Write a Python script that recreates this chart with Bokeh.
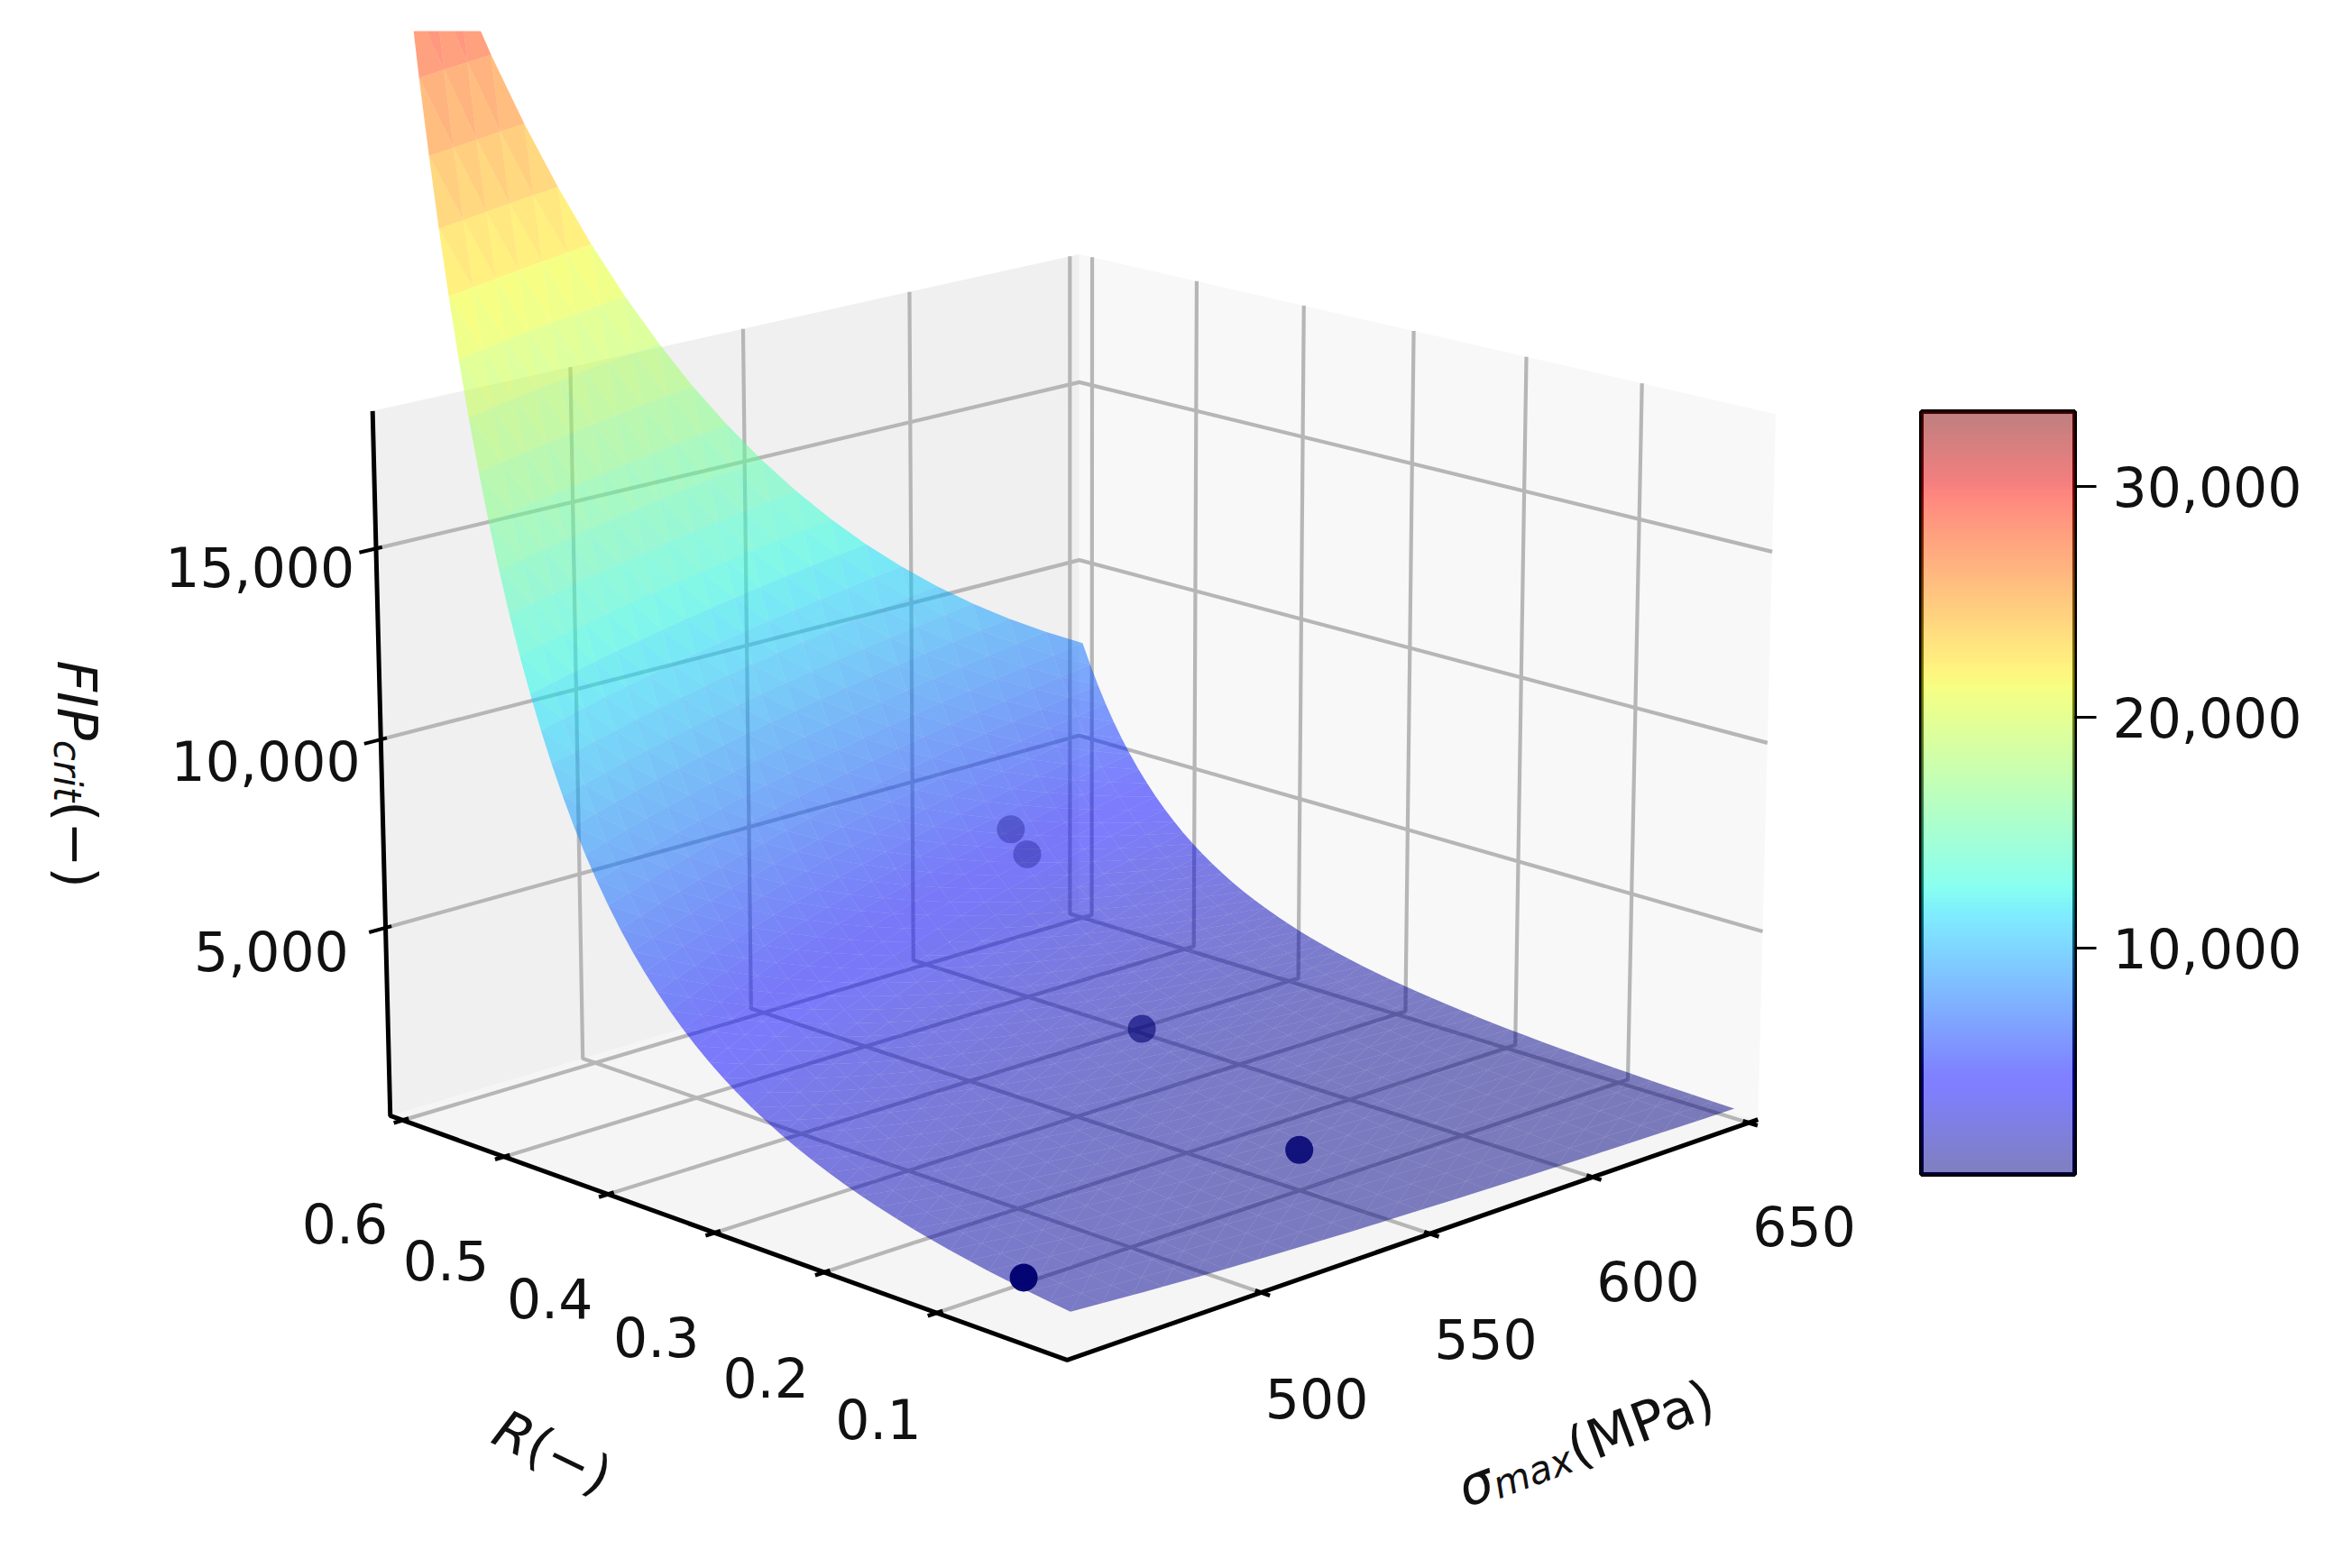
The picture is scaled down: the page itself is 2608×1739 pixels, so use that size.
import math
import numpy as np
from bokeh.plotting import figure
from bokeh.models import Range1d, ColorBar, LinearColorMapper, FixedTicker, NumeralTickFormatter
from bokeh.core.properties import value
from bokeh.embed import file_html
from bokeh.resources import INLINE

# ---------- data ----------
R_VALUES = [0, .0182, .0360, .0535, .0707, .0875, .1041, .1204, .1363, .1520, .1674, .1826, .1974,
            .2120, .2263, .2403, .2541, .2677, .2810, .2940, .3069, .3194, .3318, .3439, .3558, .3675,
            .3790, .3903, .4014, .4122, .4229, .4334, .4437, .4538, .4637, .4734, .4830, .4924, .5016,
            .5106, .5195, .5282, .5368, .5452, .5535, .5616, .5695, .5774, .5850, .5926, .6]
SIGMA_VALUES = [450, 458.9, 467.4, 476.0, 484.8, 493.8, 502.9, 512.2, 521.7, 531.3, 541.2, 551.2,
                561.4, 571.8, 582.3, 593.1, 604.1, 615.2, 626.6, 638.2, 650]
# FIP level along the surface: one level per (R step + sigma step) counted from R=0, sigma=650
FIP_LEVELS = [200, 215.2, 231.6, 249.2, 268.1, 288.5, 310.5, 334.1, 359.5, 386.8, 416.3, 447.9, 482.0,
              518.6, 558.1, 600.6, 646.2, 695.3, 748.2, 805.1, 866.4, 932.3, 1003, 1079, 1161, 1250,
              1345, 1447, 1557, 1676, 1803, 1941, 2088, 2247, 2418, 2602, 2800, 3013, 3242, 3488, 3753,
              4039, 4346, 4676, 5032, 5415, 5827, 6270, 6747, 7260, 7812, 8406, 9045, 9733, 10473,
              11271, 12128, 13050, 14043, 15111, 16261, 17497, 18828, 20260, 21801, 23460, 25244,
              27164, 29230, 31453, 33845]
DOT_R = [0.04, 0.115, 0.31, 0.51, 0.485]
DOT_SIGMA = [450, 555, 573, 598, 595]
DOT_FIP = [1310, 720, 1580, 4600, 4200]

R_TICKS = [0.1, 0.2, 0.3, 0.4, 0.5, 0.6]
R_LABELS = ["0.1", "0.2", "0.3", "0.4", "0.5", "0.6"]
SIGMA_TICKS = [500, 550, 600, 650]
SIGMA_LABELS = ["500", "550", "600", "650"]
FIP_TICKS = [5000, 10000, 15000]
FIP_LABELS = ["5,000", "10,000", "15,000"]
CBAR_TICKS = [10000, 20000, 30000]
CBAR_LOW, CBAR_HIGH = 200, 33240

# ---------- axes limits and camera ----------
R0, R1 = -0.0125, 0.6125
S0, S1 = 445.0, 653.0
Z0, Z1 = -60.0, 18560.0
HA, HZ = 0.595, 0.447
ELEV, TURN, DIST, FOCAL, CX, CY = math.radians(16.6), math.radians(44.5), 10.0, 9127.0, 1190.0, 853.0
ce, se, ct, st = math.cos(ELEV), math.sin(ELEV), math.cos(TURN), math.sin(TURN)


def box(r, s, z):
    a = (np.asarray(r, float) - R0) / (R1 - R0) * 2 * HA - HA
    b = (np.asarray(s, float) - S0) / (S1 - S0) * 2 * HA - HA
    c = (np.asarray(z, float) - Z0) / (Z1 - Z0) * 2 * HZ - HZ
    return a, b, c


def depth(r, s, z):
    a, b, c = box(r, s, z)
    return DIST - (-ce * ct * a - ce * st * b + se * c)


def proj(r, s, z):
    a, b, c = box(r, s, z)
    w = depth(r, s, z)
    x = CX + FOCAL * (-st * a + ct * b) / w
    y = CY - FOCAL * (se * ct * a + se * st * b + ce * c) / w
    return x, y


def jet(v):
    r = np.interp(v, [0, .35, .66, .89, 1], [0, 0, 1, 1, .5])
    g = np.interp(v, [0, .125, .375, .64, .91, 1], [0, 0, 1, 1, 0, 0])
    b = np.interp(v, [0, .11, .34, .65, 1], [.5, 1, 1, 0, 0])
    return "#%02x%02x%02x" % (int(r * 255), int(g * 255), int(b * 255))


W, H = 2592, 1723
p = figure(width=W, height=H, output_backend="svg", toolbar_location=None,
           x_axis_type=None, y_axis_type=None, x_range=Range1d(0, W), y_range=Range1d(H, 34),
           min_border_left=0, min_border_right=0, min_border_bottom=0, min_border_top=34,
           outline_line_color=None)
p.grid.visible = False

# ---------- panes ----------
def pane(corners, color):
    x, y = proj([c[0] for c in corners], [c[1] for c in corners], [c[2] for c in corners])
    p.patch(list(x), list(y), fill_color=color, line_color=None)

pane([(R0, S0, Z0), (R1, S0, Z0), (R1, S1, Z0), (R0, S1, Z0)], "#f5f5f5")
pane([(R1, S0, Z0), (R1, S1, Z0), (R1, S1, Z1), (R1, S0, Z1)], "#f0f0f0")
pane([(R0, S1, Z0), (R1, S1, Z0), (R1, S1, Z1), (R0, S1, Z1)], "#f8f8f8")

# ---------- grid ----------
GRID = "#b6b6b6"
def path(points, color=GRID, width=4.2):
    x, y = proj([q[0] for q in points], [q[1] for q in points], [q[2] for q in points])
    p.line(list(x), list(y), line_color=color, line_width=width)

for r in R_TICKS:
    path([(r, S0, Z0), (r, S1, Z0), (r, S1, Z1)])
for s in SIGMA_TICKS:
    path([(R0, s, Z0), (R1, s, Z0), (R1, s, Z1)])
for z in FIP_TICKS:
    path([(R1, S0, z), (R1, S1, z), (R0, S1, z)])

# ---------- axis lines and ticks ----------
path([(R1, S0, Z1), (R1, S0, Z0), (R0, S0, Z0), (R0, S1, Z0)], "black", 5)
dS = S1 - S0
dR = R1 - R0
for r in R_TICKS:
    path([(r, S0 - .012 * dS, Z0), (r, S0 + .008 * dS, Z0)], "black", 4.5)
for s in SIGMA_TICKS:
    path([(R0 - .012 * dR, s, Z0), (R0 + .008 * dR, s, Z0)], "black", 4.5)
for z in FIP_TICKS:
    path([(R1, S0 - .022 * dS, z), (R1, S0 + .008 * dS, z)], "black", 4)

# ---------- surface: each grid cell is split along its line of equal FIP ----------
rv = np.array(R_VALUES, float)
sv = np.array(SIGMA_VALUES, float)
n_s = len(sv) - 1
cells = []
def add_cell(rs, ss, zs):
    x, y = proj(rs, ss, zs)
    m = np.mean(zs)
    cells.append((float(depth(np.mean(rs), np.mean(ss), m)), list(x), list(y),
                  jet((m - CBAR_LOW) / (CBAR_HIGH - CBAR_LOW))))

for i in range(len(rv) - 1):
    for j in range(n_s):
        k = i + n_s - j
        add_cell([rv[i], rv[i], rv[i + 1]], [sv[j + 1], sv[j], sv[j + 1]],
                 [FIP_LEVELS[k - 1], FIP_LEVELS[k], FIP_LEVELS[k]])
        add_cell([rv[i], rv[i + 1], rv[i + 1]], [sv[j], sv[j + 1], sv[j]],
                 [FIP_LEVELS[k], FIP_LEVELS[k], FIP_LEVELS[k + 1]])
cells.sort(key=lambda t: -t[0])
p.patches([c[1] for c in cells], [c[2] for c in cells], fill_color=[c[3] for c in cells],
          fill_alpha=0.5, line_color=None)

# ---------- points ----------
dx, dy = proj(DOT_R, DOT_SIGMA, DOT_FIP)
p.scatter(list(dx), list(dy), size=31, fill_color="#000070", line_color=None,
          fill_alpha=[0.97, 0.85, 0.6, 0.3, 0.3])

# ---------- tick labels ----------
def labels(x, y, texts, ox=0, oy=0):
    p.text(list(x), list(y), text=texts, text_font=value("DejaVu Sans"), text_font_size="60px",
           text_align="center", text_baseline="middle", text_color="#111111", x_offset=ox, y_offset=oy)

lx, ly = proj(R_TICKS, [S0 - .1 * dS] * len(R_TICKS), [Z0] * len(R_TICKS))
labels(lx, ly, R_LABELS, 19, 89)
lx, ly = proj([R0 - .08 * dR] * len(SIGMA_TICKS), SIGMA_TICKS, [Z0] * len(SIGMA_TICKS))
labels(lx, ly, SIGMA_LABELS, -4, 94)
lx, ly = proj([R1] * len(FIP_TICKS), [S0 - .166 * dS] * len(FIP_TICKS), FIP_TICKS)
labels(lx, ly, FIP_LABELS, 13, -13)

# ---------- axis titles ----------
def title(x0, y0, deg, pieces):
    t = math.radians(deg)
    ux, uy = math.cos(t), -math.sin(t)
    nx, ny = math.sin(t), math.cos(t)
    pos = 0.0
    for txt, size, style, drop, adv in pieces:
        p.text([x0 + ux * pos + nx * drop], [y0 + uy * pos + ny * drop], text=[txt],
               text_font=value("DejaVu Sans"), text_font_size=f"{size}px", text_font_style=style,
               text_align="left", text_baseline="alphabetic", angle=t, text_color="#111111")
        pos += adv * size

title(84, 732, -90, [("FIP", 60, "italic", 0, 1.47), ("crit", 42, "italic", 10, 1.6), ("(\u2212)", 60, "normal", 0, 1.62)])
title(551, 1580, -26, [("R", 59, "italic", 0, .695), ("(\u2212)", 59, "normal", 0, 1.62)])
title(1618, 1652, 20.4, [("\u03c3", 60, "italic", 0, .62), ("max", 42, "italic", 10, 2.2), ("(MPa)", 60, "normal", 0, 2.86)])

# ---------- colour bar ----------
pal = [jet(i / 255) for i in range(256)]
mapper = LinearColorMapper(palette=pal, low=CBAR_LOW, high=CBAR_HIGH)
cb = ColorBar(color_mapper=mapper, location=(2130, 421), width=170, height=846, padding=0,
              scale_alpha=0.5, ticker=FixedTicker(ticks=CBAR_TICKS),
              formatter=NumeralTickFormatter(format="0,0"), major_label_text_font="DejaVu Sans",
              major_label_text_font_size="60px", major_label_text_color="#111111",
              major_tick_in=0, major_tick_out=24, major_tick_line_color="black", major_tick_line_width=3,
              bar_line_color=None, border_line_color=None,
              background_fill_color=None, minor_tick_line_color=None, label_standoff=18)
p.add_layout(cb, "center")
p.quad(left=[2130], right=[2300], top=[456], bottom=[1302], fill_color=None, line_color="black", line_width=5)

open("out.html", "w").write(file_html(p, INLINE))
